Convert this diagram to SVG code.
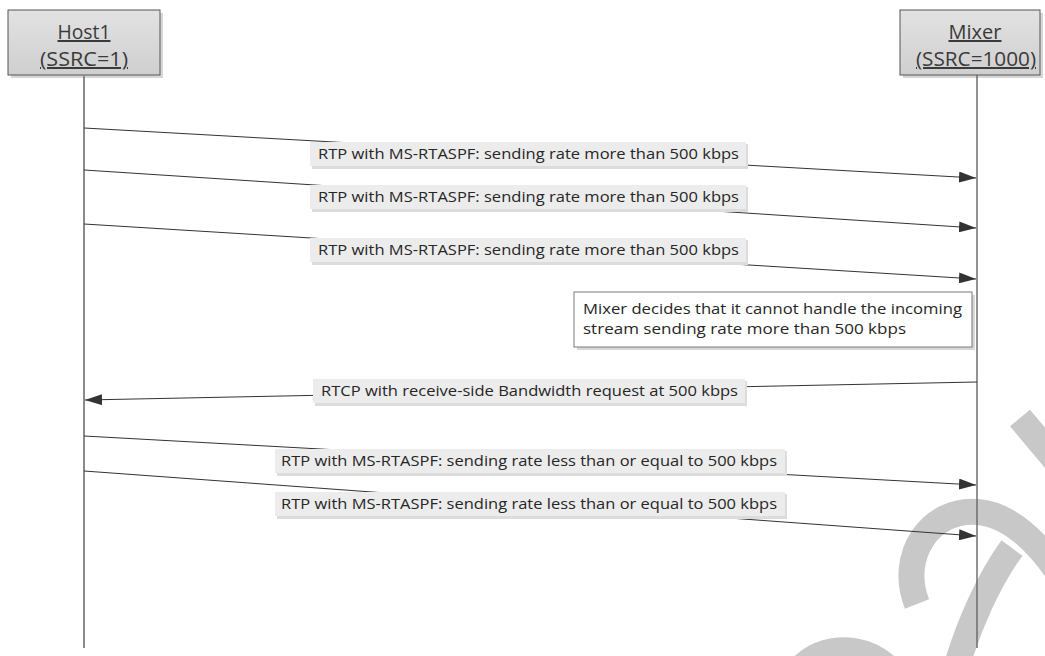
<svg xmlns="http://www.w3.org/2000/svg" width="1045" height="656" viewBox="0 0 1045 656">
<defs>
  <linearGradient id="hdr" x1="0" y1="0" x2="0" y2="1">
    <stop offset="0" stop-color="#e2e2e2"/>
    <stop offset="1" stop-color="#cfcfcf"/>
  </linearGradient>
  <marker id="arr" viewBox="0 0 17 11" refX="17" refY="5.5" markerWidth="17" markerHeight="11" markerUnits="userSpaceOnUse" orient="auto">
    <path d="M0,0 L17,5.5 L0,11 Z" fill="#333"/>
  </marker>
  <style>
    .hdrbox{fill:url(#hdr);stroke:#555;stroke-width:1}
    .shadow{fill:#bdbdbd;opacity:0.6}
    .hdrtxt{font-family:"Open Sans","Liberation Sans",sans-serif;font-size:20px;fill:#3a3a3a;text-anchor:middle;text-decoration:underline}
    .life{stroke:#8a8a8a;stroke-width:2;fill:none}
    .msg{stroke:#333;stroke-width:1;fill:none}
    .lblbg{fill:#ececec}
    .lblsh{fill:#dcdcdc}
    .lbl{font-family:"Open Sans","Liberation Sans",sans-serif;font-size:15px;fill:#262626}
    .note{fill:#fff;stroke:#7a7a7a;stroke-width:1}
    .wm{fill:none;stroke:#c8c8c8;stroke-width:26}
  </style>
</defs>
<rect width="1045" height="656" fill="#fff"/>

<g id="watermark">
  <path class="wm" d="M1020,418 L1062,468"/>
  <path class="wm" d="M917,604 C898,556 930,508 978,512 C1012,515 1040,545 1062,578"/>
  <path class="wm" d="M955,672 C968,625 990,578 1012,548"/>
  <path class="wm" d="M798,672 C815,648 858,640 888,668"/>
</g>

<g id="host1">
  <rect class="shadow" x="11" y="13" width="152" height="65"/>
  <rect class="hdrbox" x="8" y="10" width="152" height="65"/>
  <text class="hdrtxt" x="84" y="39" textLength="53" lengthAdjust="spacingAndGlyphs">Host1</text>
  <text class="hdrtxt" x="84" y="66" textLength="88" lengthAdjust="spacingAndGlyphs">(SSRC=1)</text>
  <line class="life" x1="84" y1="75" x2="84" y2="648"/>
</g>

<g id="mixer">
  <rect class="shadow" x="903" y="13" width="140" height="65"/>
  <rect class="hdrbox" x="900" y="10" width="140" height="65"/>
  <text class="hdrtxt" x="975" y="39" textLength="53" lengthAdjust="spacingAndGlyphs">Mixer</text>
  <text class="hdrtxt" x="976" y="66" textLength="120" lengthAdjust="spacingAndGlyphs">(SSRC=1000)</text>
  <line x1="977" y1="75" x2="977" y2="648" stroke="#666" stroke-width="1.4"/>
</g>

<g id="connectors">
  <line class="msg" x1="84" y1="128" x2="976" y2="178" marker-end="url(#arr)"/>
  <line class="msg" x1="84" y1="170" x2="976" y2="228" marker-end="url(#arr)"/>
  <line class="msg" x1="84" y1="224" x2="976" y2="279" marker-end="url(#arr)"/>
  <line class="msg" x1="977" y1="382" x2="85" y2="400" marker-end="url(#arr)"/>
  <line class="msg" x1="84" y1="436" x2="976" y2="485" marker-end="url(#arr)"/>
  <line class="msg" x1="84" y1="471" x2="976" y2="536" marker-end="url(#arr)"/>
</g>

<g id="labels">
  <g id="lbl1">
    <rect class="lblsh" x="312" y="144" width="436" height="25"/>
    <rect class="lblbg" x="310" y="142" width="436" height="24"/>
    <text class="lbl" x="318" y="159" textLength="421" lengthAdjust="spacingAndGlyphs">RTP with MS-RTASPF: sending rate more than 500 kbps</text>
  </g>
  <g id="lbl2">
    <rect class="lblsh" x="312" y="187" width="436" height="25"/>
    <rect class="lblbg" x="310" y="185" width="436" height="24"/>
    <text class="lbl" x="318" y="202" textLength="421" lengthAdjust="spacingAndGlyphs">RTP with MS-RTASPF: sending rate more than 500 kbps</text>
  </g>
  <g id="lbl3">
    <rect class="lblsh" x="312" y="240" width="436" height="25"/>
    <rect class="lblbg" x="310" y="238" width="436" height="24"/>
    <text class="lbl" x="318" y="255" textLength="421" lengthAdjust="spacingAndGlyphs">RTP with MS-RTASPF: sending rate more than 500 kbps</text>
  </g>
  <g id="lbl4">
    <rect class="lblsh" x="315" y="381" width="432" height="25"/>
    <rect class="lblbg" x="313" y="379" width="432" height="24"/>
    <text class="lbl" x="321" y="396" textLength="417" lengthAdjust="spacingAndGlyphs">RTCP with receive-side Bandwidth request at 500 kbps</text>
  </g>
  <g id="lbl5">
    <rect class="lblsh" x="277" y="451" width="510" height="25"/>
    <rect class="lblbg" x="275" y="449" width="510" height="24"/>
    <text class="lbl" x="281" y="466" textLength="496" lengthAdjust="spacingAndGlyphs">RTP with MS-RTASPF: sending rate less than or equal to 500 kbps</text>
  </g>
  <g id="lbl6">
    <rect class="lblsh" x="277" y="494" width="510" height="25"/>
    <rect class="lblbg" x="275" y="492" width="510" height="24"/>
    <text class="lbl" x="281" y="509" textLength="496" lengthAdjust="spacingAndGlyphs">RTP with MS-RTASPF: sending rate less than or equal to 500 kbps</text>
  </g>
</g>

<g id="note">
  <rect class="shadow" x="577" y="295" width="398" height="55"/>
  <rect class="note" x="574" y="292" width="398" height="55"/>
  <text class="lbl" x="583" y="314" textLength="379" lengthAdjust="spacingAndGlyphs">Mixer decides that it cannot handle the incoming</text>
  <text class="lbl" x="583" y="334" textLength="323" lengthAdjust="spacingAndGlyphs">stream sending rate more than 500 kbps</text>
</g>
</svg>
